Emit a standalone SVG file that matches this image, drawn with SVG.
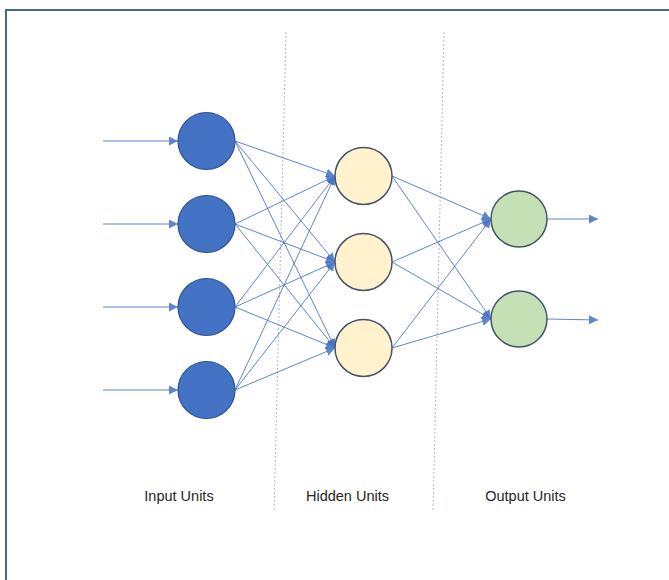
<svg xmlns="http://www.w3.org/2000/svg" width="669" height="580" viewBox="0 0 669 580">
<defs>
<marker id="ah" viewBox="0 0 10 10" refX="10" refY="5" markerWidth="9" markerHeight="9" markerUnits="userSpaceOnUse" orient="auto">
<path d="M0,0 L10,5 L0,10 Z" fill="#4472c4"/>
</marker>
<style>
.c{stroke:#4472c4;stroke-width:1;fill:none;opacity:0.85}
.a{marker-end:url(#ah)}
.in{fill:#4472c4;stroke:#2f528f;stroke-width:1.2}
.hid{fill:#fff2cc;stroke:#44546a;stroke-width:1.5}
.out{fill:#c5e0b4;stroke:#44546a;stroke-width:1.5}
.sep{stroke:#a9b8d6;stroke-width:1;stroke-dasharray:2,2;fill:none}
.lbl{font-family:"Liberation Sans","Open Sans",Arial,sans-serif;font-size:14.5px;fill:#262626;text-anchor:middle}
</style>
</defs>
<rect width="669" height="580" fill="#fff"/>
<path d="M6,580 V10 H669" fill="none" stroke="#4a6590" stroke-width="2"/>
<g id="separators">
<line class="sep" x1="286" y1="32" x2="274" y2="512"/>
<line class="sep" x1="444" y1="32" x2="433" y2="512"/>
</g>
<g id="connectors">
<line class="c a" x1="103" y1="141" x2="178" y2="141"/>
<line class="c a" x1="103" y1="224" x2="178" y2="224"/>
<line class="c a" x1="103" y1="307" x2="178" y2="307"/>
<line class="c a" x1="103" y1="390" x2="178" y2="390"/>
<line class="c a" x1="235" y1="141" x2="335" y2="176"/>
<line class="c a" x1="235" y1="141" x2="335" y2="262"/>
<line class="c a" x1="235" y1="141" x2="335" y2="348"/>
<line class="c a" x1="235" y1="224" x2="335" y2="176"/>
<line class="c a" x1="235" y1="224" x2="335" y2="262"/>
<line class="c a" x1="235" y1="224" x2="335" y2="348"/>
<line class="c a" x1="235" y1="307" x2="335" y2="176"/>
<line class="c a" x1="235" y1="307" x2="335" y2="262"/>
<line class="c a" x1="235" y1="307" x2="335" y2="348"/>
<line class="c a" x1="235" y1="390" x2="335" y2="176"/>
<line class="c a" x1="235" y1="390" x2="335" y2="262"/>
<line class="c a" x1="235" y1="390" x2="335" y2="348"/>
<line class="c a" x1="392" y1="176" x2="491" y2="219"/>
<line class="c a" x1="392" y1="176" x2="491" y2="319"/>
<line class="c a" x1="392" y1="262" x2="491" y2="219"/>
<line class="c a" x1="392" y1="262" x2="491" y2="319"/>
<line class="c a" x1="392" y1="348" x2="491" y2="219"/>
<line class="c a" x1="392" y1="348" x2="491" y2="319"/>
<line class="c a" x1="547" y1="219" x2="598" y2="219"/>
<line class="c a" x1="547" y1="319" x2="598" y2="320"/>
</g>
<g id="in1"><circle class="in" cx="206.5" cy="141" r="28.5"/></g>
<g id="in2"><circle class="in" cx="206.5" cy="224" r="28.5"/></g>
<g id="in3"><circle class="in" cx="206.5" cy="307" r="28.5"/></g>
<g id="in4"><circle class="in" cx="206.5" cy="390" r="28.5"/></g>
<g id="h1"><circle class="hid" cx="363.5" cy="176" r="28.5"/></g>
<g id="h2"><circle class="hid" cx="363.5" cy="262" r="28.5"/></g>
<g id="h3"><circle class="hid" cx="363.5" cy="348" r="28.5"/></g>
<g id="o1"><circle class="out" cx="519" cy="219" r="28"/></g>
<g id="o2"><circle class="out" cx="519" cy="319" r="28"/></g>
<g id="labels">
<text class="lbl" x="179" y="501">Input Units</text>
<text class="lbl" x="347.5" y="501">Hidden Units</text>
<text class="lbl" x="525.5" y="501">Output Units</text>
</g>
</svg>
